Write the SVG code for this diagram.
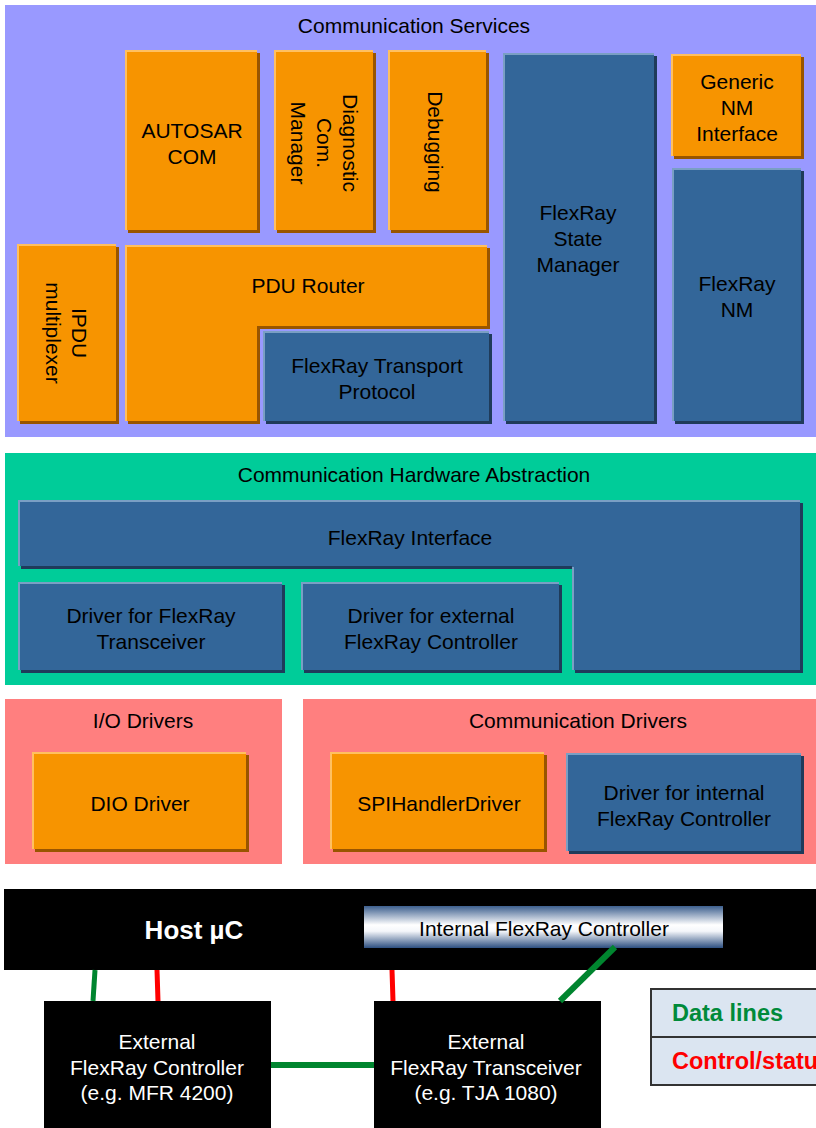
<svg xmlns="http://www.w3.org/2000/svg" width="816" height="1128" viewBox="0 0 816 1128">
<style>
text{font-family:"Liberation Sans",Arial,sans-serif;font-size:21px;fill:#000;text-anchor:middle;dominant-baseline:central}
.o{fill:#f79400}.os{fill:#995500}.oh{fill:none;stroke:#ffc060;stroke-width:2}
.b{fill:#336699}.bs{fill:#1f3b5a}.bh{fill:none;stroke:#7a9fc4;stroke-width:2}
.w{fill:#fff}
.g{stroke:#00852f;stroke-width:5;fill:none}
.r{stroke:#ff0000;stroke-width:5;fill:none}
.lg{text-anchor:start;font-weight:bold;font-size:23.5px}
</style>
<defs>
<linearGradient id="ifc" x1="0" y1="0" x2="0" y2="1">
<stop offset="0" stop-color="#3d5f8e"/>
<stop offset="0.45" stop-color="#ffffff"/>
<stop offset="0.6" stop-color="#f4f6fa"/>
<stop offset="1" stop-color="#2d4f80"/>
</linearGradient>
</defs>
<rect width="816" height="1128" fill="#fff"/>

<g id="layer-comm-services">
<rect x="5" y="5" width="811" height="432" fill="#9999ff"/>
<text x="414" y="25">Communication Services</text>
</g>
<g id="autosar-com">
<rect class="os" x="128" y="53" width="132" height="180"/>
<rect class="o" x="125" y="50" width="132" height="180"/>
<path class="oh" d="M126,230V51H257"/>
<text x="192" y="130">AUTOSAR</text><text x="192" y="156">COM</text>
</g>
<g id="diag-com-manager">
<rect class="os" x="277" y="53" width="99" height="180"/>
<rect class="o" x="274" y="50" width="99" height="180"/>
<path class="oh" d="M275,230V51H373"/>
<g transform="translate(324,143) rotate(90)"><text x="0" y="-26">Diagnostic</text><text x="0" y="0">Com.</text><text x="0" y="26">Manager</text></g>
</g>
<g id="debugging">
<rect class="os" x="391" y="53" width="98" height="180"/>
<rect class="o" x="388" y="50" width="98" height="180"/>
<path class="oh" d="M389,230V51H486"/>
<g transform="translate(435,142) rotate(90)"><text x="0" y="0">Debugging</text></g>
</g>
<g id="ipdu-multiplexer">
<rect class="os" x="20" y="247" width="99" height="177"/>
<rect class="o" x="17" y="244" width="99" height="177"/>
<path class="oh" d="M18,421V245H116"/>
<g transform="translate(66,333) rotate(90)"><text x="0" y="-13">IPDU</text><text x="0" y="13">multiplexer</text></g>
</g>
<g id="pdu-router">
<path class="os" d="M128,248H490V329H260V424H128Z"/>
<path class="o" d="M125,245H487V326H257V421H125Z"/>
<path class="oh" d="M126,421V246H487"/>
<text x="308" y="285">PDU Router</text>
</g>
<g id="flexray-tp">
<rect class="bs" x="266" y="334" width="226" height="90"/>
<rect class="b" x="263" y="331" width="226" height="90"/>
<path class="bh" d="M264,421V332H489"/>
<text x="377" y="365">FlexRay Transport</text><text x="377" y="391">Protocol</text>
</g>
<g id="flexray-state-manager">
<rect class="bs" x="506" y="56" width="151" height="368"/>
<rect class="b" x="503" y="53" width="151" height="368"/>
<path class="bh" d="M504,421V54H654"/>
<text x="578" y="212">FlexRay</text><text x="578" y="238">State</text><text x="578" y="264">Manager</text>
</g>
<g id="generic-nm-interface">
<rect class="os" x="674" y="57" width="130" height="102"/>
<rect class="o" x="671" y="54" width="130" height="102"/>
<path class="oh" d="M672,156V55H801"/>
<text x="737" y="81">Generic</text><text x="737" y="107">NM</text><text x="737" y="133">Interface</text>
</g>
<g id="flexray-nm">
<rect class="bs" x="675" y="171" width="129" height="253"/>
<rect class="b" x="672" y="168" width="129" height="253"/>
<path class="bh" d="M673,421V169H801"/>
<text x="737" y="283">FlexRay</text><text x="737" y="309">NM</text>
</g>

<g id="layer-comm-hw-abstraction">
<rect x="5" y="453" width="811" height="232" fill="#00cc99"/>
<text x="414" y="474">Communication Hardware Abstraction</text>
</g>
<g id="flexray-interface">
<path class="bs" d="M21,503H803V673H575V569H21Z"/>
<path class="b" d="M18,500H800V670H572V566H18Z"/>
<path class="bh" d="M19,566V501H800M573,567V670"/>
<text x="410" y="537">FlexRay Interface</text>
</g>
<g id="driver-fr-transceiver">
<rect class="bs" x="21" y="585" width="264" height="88"/>
<rect class="b" x="18" y="582" width="264" height="88"/>
<path class="bh" d="M19,670V583H282"/>
<text x="151" y="615">Driver for FlexRay</text><text x="151" y="641">Transceiver</text>
</g>
<g id="driver-ext-fr-controller">
<rect class="bs" x="304" y="585" width="258" height="88"/>
<rect class="b" x="301" y="582" width="258" height="88"/>
<path class="bh" d="M302,670V583H559"/>
<text x="431" y="615">Driver for external</text><text x="431" y="641">FlexRay Controller</text>
</g>

<g id="layer-io-drivers">
<rect x="5" y="699" width="277" height="165" fill="#ff7f7f"/>
<text x="143" y="720">I/O Drivers</text>
</g>
<g id="dio-driver">
<rect class="os" x="35" y="755" width="214" height="97"/>
<rect class="o" x="32" y="752" width="214" height="97"/>
<path class="oh" d="M33,849V753H246"/>
<text x="140" y="803">DIO Driver</text>
</g>
<g id="layer-comm-drivers">
<rect x="303" y="699" width="513" height="165" fill="#ff7f7f"/>
<text x="578" y="720">Communication Drivers</text>
</g>
<g id="spi-handler-driver">
<rect class="os" x="333" y="755" width="214" height="97"/>
<rect class="o" x="330" y="752" width="214" height="97"/>
<path class="oh" d="M331,849V753H544"/>
<text x="439" y="803">SPIHandlerDriver</text>
</g>
<g id="driver-int-fr-controller">
<rect class="bs" x="569" y="756" width="235" height="98"/>
<rect class="b" x="566" y="753" width="235" height="98"/>
<path class="bh" d="M567,851V754H801"/>
<text x="684" y="792">Driver for internal</text><text x="684" y="818">FlexRay Controller</text>
</g>

<g id="host-uc">
<rect x="4" y="889" width="812" height="81" fill="#000"/>
<text class="w" x="194" y="930" style="font-weight:bold;font-size:26px">Host µC</text>
</g>
<g id="internal-fr-controller">
<rect x="364" y="906" width="359" height="42" fill="url(#ifc)"/>
<text x="544" y="928">Internal FlexRay Controller</text>
</g>
<g id="ext-fr-controller">
<rect x="44" y="1001" width="227" height="127" fill="#000"/>
<text class="w" x="157" y="1041">External</text><text class="w" x="157" y="1067">FlexRay Controller</text><text class="w" x="157" y="1092">(e.g. MFR 4200)</text>
</g>
<g id="ext-fr-transceiver">
<rect x="374" y="1001" width="227" height="127" fill="#000"/>
<text class="w" x="486" y="1041">External</text><text class="w" x="486" y="1067">FlexRay Transceiver</text><text class="w" x="486" y="1092">(e.g. TJA 1080)</text>
</g>

<g id="connectors">
<path class="g" d="M95,970L93,1001"/>
<path class="r" d="M157,970L158,1001"/>
<path class="r" d="M392,970L393,1001"/>
<path class="g" d="M615,947L560,1001" style="stroke-width:6"/>
<path class="g" d="M271,1065H374" style="stroke-width:6"/>
</g>

<g id="legend">
<rect x="651" y="989" width="170" height="96" fill="#dbe5f1" stroke="#333" stroke-width="2"/>
<path d="M651,1037H816" stroke="#333" stroke-width="2"/>
<text class="lg" x="672" y="1013" style="fill:#008a3a">Data lines</text>
<text class="lg" x="672" y="1061" style="fill:#ff0000">Control/status</text>
</g>
</svg>
